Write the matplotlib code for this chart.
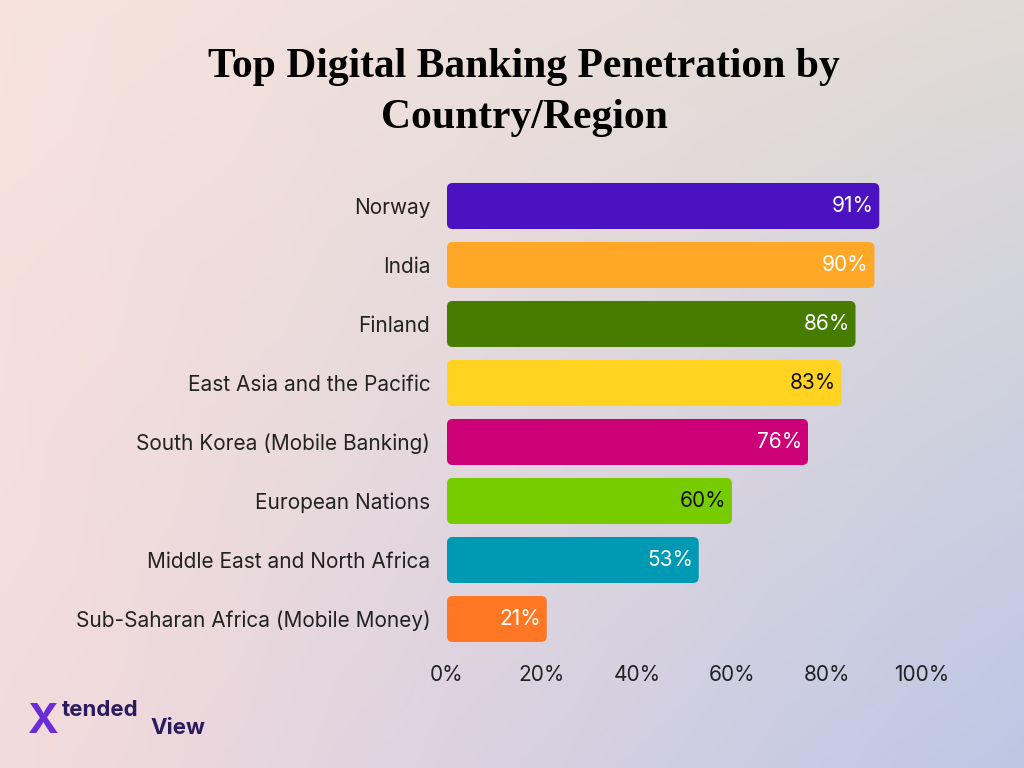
import numpy as np
import matplotlib.pyplot as plt
from matplotlib.patches import FancyBboxPatch

regions = ["Norway", "India", "Finland", "East Asia and the Pacific",
           "South Korea (Mobile Banking)", "European Nations",
           "Middle East and North Africa", "Sub-Saharan Africa (Mobile Money)"]
values = [91, 90, 86, 83, 76, 60, 53, 21]
colors = ["#4a12c0", "#ffa726", "#467c00", "#ffd320",
          "#cc0077", "#77cc00", "#0099b3", "#ff7722"]
label_colors = ["white", "white", "white", "#111111",
                "white", "#111111", "white", "white"]
ticks = [0, 20, 40, 60, 80, 100]

plt.rcParams['font.family'] = ['Inter', 'DejaVu Sans']
fig = plt.figure(figsize=(10.24, 7.68), dpi=100)

# background gradient
bg = fig.add_axes([0, 0, 1, 1], zorder=-1)
xx, yy = np.meshgrid(np.linspace(0, 1, 200), np.linspace(0, 1, 200))
tl = np.array([0.97, 0.89, 0.87])
tr = np.array([0.88, 0.86, 0.84])
bl = np.array([0.96, 0.86, 0.86])
br = np.array([0.74, 0.78, 0.90])
img = (tl * ((1 - xx) * (1 - yy))[..., None] + tr * (xx * (1 - yy))[..., None]
       + bl * ((1 - xx) * yy)[..., None] + br * (xx * yy)[..., None])
bg.imshow(img, aspect='auto', extent=[0, 1, 0, 1], origin='upper')
bg.axis('off')

ax = fig.add_axes([0.4365, 0.1556, 0.4639, 0.6146])
ax.patch.set_alpha(0)
ax.set_xlim(0, 100)
ax.set_ylim(7.5, -0.5)
h = 0.78
for i, (v, c, lc) in enumerate(zip(values, colors, label_colors)):
    ax.add_patch(FancyBboxPatch((0, i - h / 2), v, h,
                                boxstyle="round,pad=0,rounding_size=1.2",
                                mutation_aspect=0.08, fc=c, ec='none'))
    ax.text(v - 1.2, i, f"{v}%", ha='right', va='center', fontsize=15, color=lc)
ax.set_yticks(range(len(regions)))
ax.set_yticklabels(regions, fontsize=15, color='#222222')
ax.set_xticks(ticks)
ax.set_xticklabels([f"{t}%" for t in ticks], fontsize=15, color='#222222')
ax.tick_params(length=0, pad=12)
for s in ax.spines.values():
    s.set_visible(False)

fig.text(0.512, 0.88, "Top Digital Banking Penetration by\nCountry/Region",
         ha='center', va='center', fontsize=30, fontweight='bold',
         family=['Liberation Serif', 'DejaVu Serif'], linespacing=1.45)

# logo
fig.text(0.027, 0.06, "X", fontsize=30, fontweight='bold', color='#6a2bd9', va='center')
fig.text(0.060, 0.075, "tended", fontsize=16, fontweight='bold', color='#2a1a5e', va='center')
fig.text(0.147, 0.052, "View", fontsize=16, fontweight='bold', color='#2a1a5e', va='center')

fig.savefig("out.png", dpi=100)
